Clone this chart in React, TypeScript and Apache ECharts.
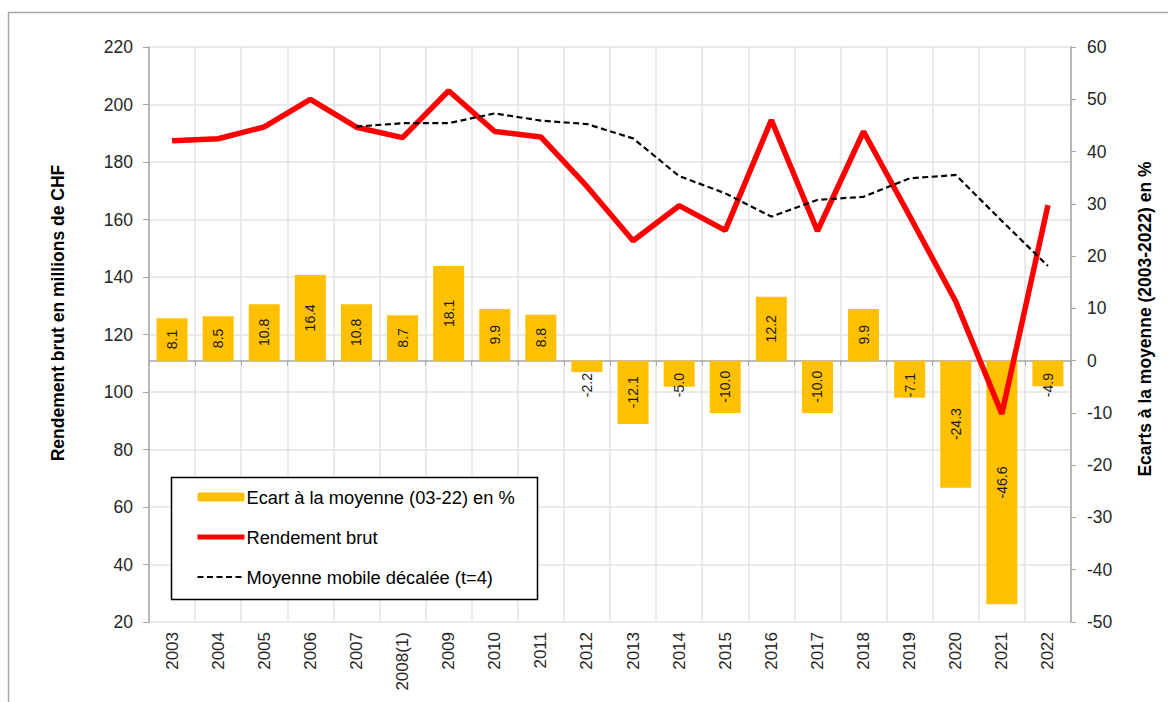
import React, { useEffect, useRef } from "react";
import * as echarts from "echarts";

const categories = [
  "2003", "2004", "2005", "2006", "2007", "2008(1)", "2009", "2010", "2011", "2012",
  "2013", "2014", "2015", "2016", "2017", "2018", "2019", "2020", "2021", "2022",
];

// Rendement brut (millions de CHF) - left axis
const rendementBrut = [
  187.4, 188.1, 192.2, 201.8, 192.1, 188.5, 204.8, 190.6, 188.7, 171.5,
  152.6, 164.8, 156.2, 194.6, 156.0, 190.6, 161.2, 131.5, 92.4, 165.0,
];

// Moyenne mobile décalée (t=4) - left axis
const moyenneMobile = [
  null, null, null, null, 192.3, 193.5, 193.5, 196.9, 194.4, 193.2,
  188.2, 175.1, 169.1, 161.0, 166.8, 167.9, 174.3, 175.5, 159.5, 143.8,
];

// Ecart à la moyenne (03-22) en % - right axis
const ecartMoyenne = [
  8.1, 8.5, 10.8, 16.4, 10.8, 8.7, 18.1, 9.9, 8.8, -2.2,
  -12.1, -5.0, -10.0, 12.2, -10.0, 9.9, -7.1, -24.3, -46.6, -4.9,
];

const leftTicks = { min: 20, max: 220, interval: 20 };
const rightTicks = { min: -50, max: 60, interval: 10 };

const seriesNames = [
  "Ecart à la moyenne (03-22) en %",
  "Rendement brut",
  "Moyenne mobile décalée (t=4)",
];

const FONT = "Arial, 'Liberation Sans', sans-serif";

export default function App() {
  const ref = useRef<HTMLDivElement>(null);

  useEffect(() => {
    if (!ref.current) return;
    const chart = echarts.init(ref.current, undefined, { renderer: "svg" });

    const barData = ecartMoyenne.map((v) => {
      const item: any = { value: v };
      // small negative bars: label shifted below (as in the original)
      if (v < 0 && v > -8) {
        const barCenter = (Math.abs(v) * 5.227) / 2;
        const shift = 24.5 - barCenter;
        item.label = { offset: [-shift, 0] };
      }
      return item;
    });

    chart.setOption({
      animation: false,
      backgroundColor: "#ffffff",
      textStyle: { fontFamily: FONT },
      grid: { left: 149, right: 97, top: 47, bottom: 80, containLabel: false },
      legend: {
        orient: "vertical",
        left: 195,
        top: 487,
        padding: 0,
        itemGap: 20,
        itemWidth: 47,
        itemHeight: 9,
        z: 6,
        textStyle: { fontSize: 18.3, color: "#000", fontFamily: FONT, lineHeight: 20, padding: [0, 0, 0, -3] },
        data: [
          { name: seriesNames[0] },
          {
            name: seriesNames[1],
            itemStyle: { opacity: 0 },
            lineStyle: { width: 5, color: "#ff0000" },
          },
          {
            name: seriesNames[2],
            itemStyle: { opacity: 0 },
            lineStyle: { width: 2.2, color: "#000000", type: [6, 3.5] },
          },
        ],
      },
      xAxis: {
        type: "category",
        data: categories,
        boundaryGap: true,
        axisLine: { show: true, lineStyle: { color: "#a6a6a6", width: 1.5 } },
        axisTick: { show: true, length: 5, lineStyle: { color: "#a6a6a6" } },
        splitLine: { show: true, lineStyle: { color: "#e3e3e3", width: 1.5 } },
        axisLabel: {
          rotate: 90,
          margin: 10,
          fontSize: 17,
          color: "#262626",
          fontFamily: FONT,
          interval: 0,
        },
      },
      yAxis: [
        {
          type: "value",
          position: "left",
          min: leftTicks.min,
          max: leftTicks.max,
          interval: leftTicks.interval,
          axisLine: { show: true, lineStyle: { color: "#a6a6a6", width: 1.5 } },
          axisTick: { show: true, length: 6, lineStyle: { color: "#a6a6a6" } },
          splitLine: { show: true, lineStyle: { color: "#e3e3e3", width: 1.5 } },
          axisLabel: { margin: 16, fontSize: 17.5, color: "#262626", fontFamily: FONT },
        },
        {
          type: "value",
          position: "right",
          min: rightTicks.min,
          max: rightTicks.max,
          interval: rightTicks.interval,
          axisLine: { show: true, lineStyle: { color: "#a6a6a6", width: 1.5 } },
          axisTick: { show: true, length: 5, lineStyle: { color: "#a6a6a6" } },
          splitLine: { show: false },
          axisLabel: { margin: 16, fontSize: 17.5, color: "#262626", fontFamily: FONT },
        },
      ],
      series: [
        {
          name: seriesNames[0],
          type: "bar",
          yAxisIndex: 1,
          data: barData,
          barWidth: 31,
          itemStyle: { color: "#ffc000" },
          z: 2,
          label: {
            show: true,
            position: "inside",
            rotate: 90,
            fontSize: 14,
            color: "#1a1a1a",
            fontFamily: FONT,
            formatter: (p: any) => Number(p.value).toFixed(1),
          },
        },
        {
          name: seriesNames[1],
          type: "line",
          yAxisIndex: 0,
          data: rendementBrut,
          symbol: "none",
          lineStyle: { color: "#ff0000", width: 5.5 },
          itemStyle: { color: "#ff0000" },
          z: 3,
        },
        {
          name: seriesNames[2],
          type: "line",
          yAxisIndex: 0,
          data: moyenneMobile,
          symbol: "none",
          connectNulls: false,
          lineStyle: { color: "#000000", width: 2.2, type: [6, 3.5] },
          itemStyle: { color: "#000000" },
          z: 4,
        },
      ],
      graphic: [
        {
          type: "rect",
          silent: true,
          z: -10,
          shape: { x: 8.5, y: 12.5, width: 1200, height: 720 },
          style: { fill: "none", stroke: "#a6a6a6", lineWidth: 1.5 },
        },
        {
          type: "rect",
          silent: true,
          z: 5,
          shape: { x: 171.5, y: 477.5, width: 366, height: 122 },
          style: { fill: "#ffffff", stroke: "#000000", lineWidth: 1.5 },
        },
        {
          type: "text",
          x: 58,
          y: 313,
          rotation: Math.PI / 2,
          z: 5,
          style: {
            text: "Rendement brut en millions de CHF",
            fontSize: 17.5,
            fontWeight: "bold",
            fontFamily: FONT,
            fill: "#000000",
            textAlign: "center",
            textVerticalAlign: "middle",
          },
        },
        {
          type: "text",
          x: 1145,
          y: 319,
          rotation: Math.PI / 2,
          z: 5,
          style: {
            text: "Ecarts à la moyenne (2003-2022) en %",
            fontSize: 17.5,
            fontWeight: "bold",
            fontFamily: FONT,
            fill: "#000000",
            textAlign: "center",
            textVerticalAlign: "middle",
          },
        },
      ],
    });

    return () => chart.dispose();
  }, []);

  return (
    <div
      ref={ref}
      style={{ position: "fixed", left: 0, top: 0, width: 1168, height: 702 }}
    />
  );
}
